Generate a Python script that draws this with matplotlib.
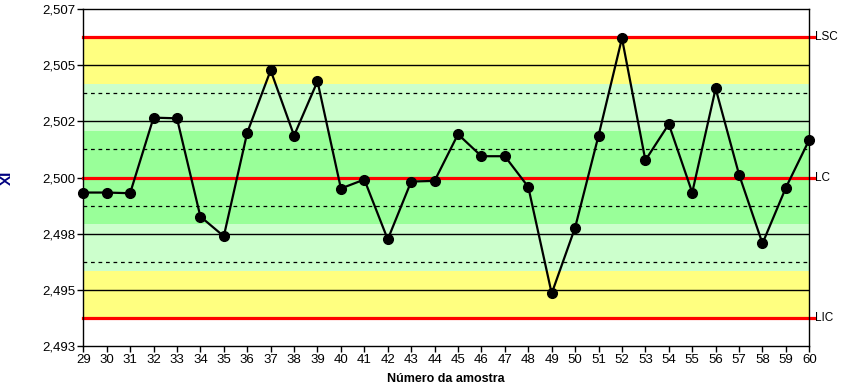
import numpy as np
import matplotlib
matplotlib.use("Agg")
from matplotlib import pyplot as plt
from matplotlib.transforms import blended_transform_factory

plt.rcParams['font.family'] = ['Liberation Sans', 'DejaVu Sans']

amostra = list(range(29, 61))
xi = [2.49933, 2.49933, 2.49930, 2.50267, 2.50264, 2.49826, 2.49738, 2.50200,
      2.50478, 2.50187, 2.50429, 2.49951, 2.49991, 2.49724, 2.49982, 2.49985,
      2.50193, 2.50095, 2.50095, 2.49958, 2.49483, 2.49777, 2.50187, 2.50621,
      2.50077, 2.50238, 2.49933, 2.50397, 2.50013, 2.49706, 2.49955, 2.50169]

lc = 2.5
lsc = 2.50626
lic = 2.49374
sigma = 0.002087
dashed_levels = [lc - 0.00377, lc - 0.00127, lc + 0.00127, lc + 0.00375]
grid_levels = [2.495, 2.4975, 2.5025, 2.505]

yticks = [2.4925, 2.495, 2.4975, 2.5, 2.5025, 2.505, 2.5075]
ytick_labels = ['2,493', '2,495', '2,498', '2,500', '2,502', '2,505', '2,507']

fig = plt.figure(figsize=(8.42, 3.89), dpi=100)
ax = fig.add_axes([0.0989, 0.1113, 0.8623, 0.8647])

x0, x1 = amostra[0], amostra[-1]
# zones
ax.axhspan(lc + 2 * sigma, lsc, color='#FFFF80', lw=0, zorder=0)
ax.axhspan(lic, lc - 2 * sigma, color='#FFFF80', lw=0, zorder=0)
ax.axhspan(lc + sigma, lc + 2 * sigma, color='#CCFFCC', lw=0, zorder=0)
ax.axhspan(lc - 2 * sigma, lc - sigma, color='#CCFFCC', lw=0, zorder=0)
ax.axhspan(lc - sigma, lc + sigma, color='#99FF99', lw=0, zorder=0)

for g in grid_levels:
    ax.axhline(g, color='black', lw=1.0, zorder=1)
for d in dashed_levels:
    ax.axhline(d, color='black', lw=0.9, ls=(0, (3, 3)), zorder=1)

for lim in (lsc, lc, lic):
    ax.axhline(lim, xmin=0, xmax=1.006, color='#FF0000', lw=2.3, zorder=2,
               clip_on=False)

ax.plot(amostra, xi, color='black', lw=1.6, marker='o', markersize=7,
        zorder=3, clip_on=False)

trans = blended_transform_factory(ax.transAxes, ax.transData)
for lim, name in ((lsc, 'LSC'), (lc, 'LC'), (lic, 'LIC')):
    ax.text(1.008, lim, name, transform=trans, ha='left', va='center',
            fontsize=8.5, color='black')

ax.set_xlim(x0, x1)
ax.set_ylim(2.4925, 2.5075)
ax.set_xticks(amostra)
ax.set_xticklabels([str(a) for a in amostra], fontsize=9.5)
ax.set_yticks(yticks)
ax.set_yticklabels(ytick_labels, fontsize=9.5)
ax.tick_params(direction='out', length=4, width=1, pad=2)

for s in ax.spines.values():
    s.set_color('black')
    s.set_linewidth(1)

ax.set_xlabel('Número da amostra', fontsize=9, fontweight='bold')
ax.xaxis.set_label_coords(0.5, -0.081)
ax.set_ylabel('XI', fontsize=11, fontweight='bold', color='#000080')
ax.yaxis.set_label_coords(-0.0955, 0.5)

fig.savefig('out.png', dpi=100)
